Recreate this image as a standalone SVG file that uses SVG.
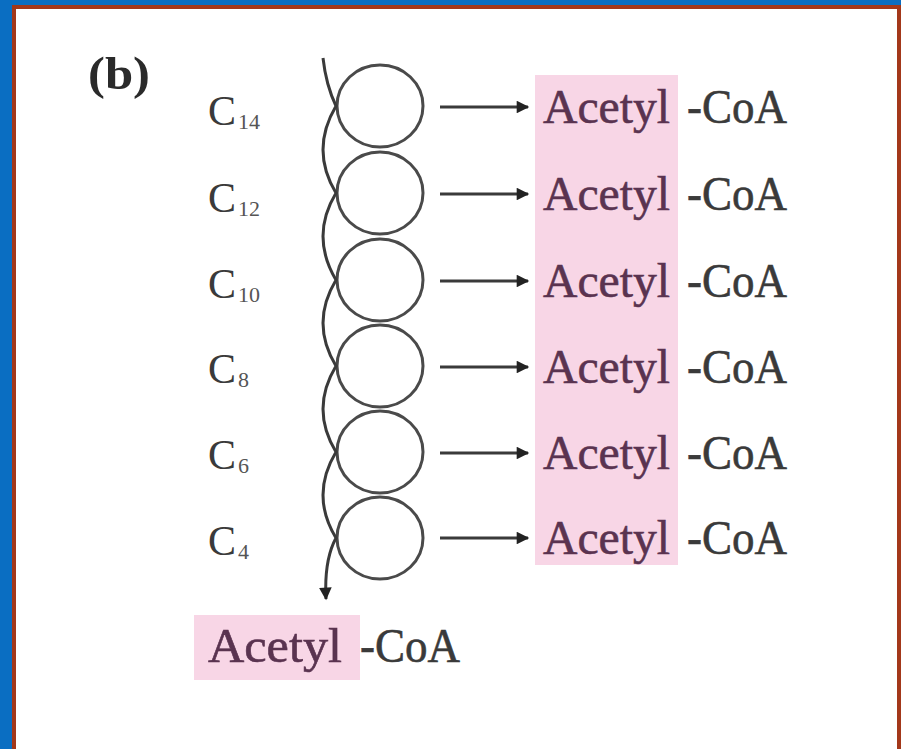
<svg xmlns="http://www.w3.org/2000/svg" width="901" height="749" viewBox="0 0 901 749">
<style>
.lbl{font-family:"Liberation Serif","Times New Roman",serif;fill:#3a3a3a}
.c{font-size:42px}
.sub{font-size:22px;fill:#555}
.ac{font-family:"Liberation Serif",serif;font-size:48px;fill:#5a3350;stroke:#5a3350;stroke-width:0.6}
.coa{font-family:"Liberation Serif",serif;font-size:48px;fill:#3a3a3a;stroke:#3a3a3a;stroke-width:0.6}
.pink{fill:#f8d6e6}
.ring{fill:none;stroke:#4a4a4a;stroke-width:3}
.arr{fill:none;stroke:#3a3a3a;stroke-width:3}
</style>
<defs>
<marker id="ah" viewBox="0 0 10 10" refX="9" refY="5" markerWidth="4.5" markerHeight="4.2" markerUnits="strokeWidth" orient="auto">
<path d="M0,0 L10,5 L0,10 z" fill="#222"/>
</marker>
</defs>
<rect x="0" y="0" width="901" height="749" fill="#0a6ec2"/>
<rect x="12" y="5" width="889" height="750" fill="#a3381a"/>
<rect x="16" y="9" width="881" height="745" fill="#ffffff"/>

<g id="title"><text x="88" y="89" font-family="Liberation Serif,serif" font-weight="bold" font-size="46" fill="#2a2a2a" textLength="62" lengthAdjust="spacingAndGlyphs">(b)</text></g>

<g id="pinkbox"><rect class="pink" x="535" y="75" width="143" height="490"/></g>

<g id="labels">
<text class="lbl c" x="208" y="125">C<tspan class="sub" dx="2" dy="4">14</tspan></text>
<text class="lbl c" x="208" y="212">C<tspan class="sub" dx="2" dy="4">12</tspan></text>
<text class="lbl c" x="208" y="298">C<tspan class="sub" dx="2" dy="4">10</tspan></text>
<text class="lbl c" x="208" y="383">C<tspan class="sub" dx="2" dy="4">8</tspan></text>
<text class="lbl c" x="208" y="469">C<tspan class="sub" dx="2" dy="4">6</tspan></text>
<text class="lbl c" x="208" y="555">C<tspan class="sub" dx="2" dy="4">4</tspan></text>
</g>

<g id="rings">
<ellipse class="ring" cx="380" cy="106" rx="43" ry="41"/>
<ellipse class="ring" cx="380" cy="193" rx="43" ry="41"/>
<ellipse class="ring" cx="380" cy="280" rx="43" ry="41"/>
<ellipse class="ring" cx="380" cy="366" rx="43" ry="41"/>
<ellipse class="ring" cx="380" cy="452" rx="43" ry="41"/>
<ellipse class="ring" cx="380" cy="538" rx="43" ry="41"/>
</g>

<g id="products">
<text class="ac" x="543" y="123" textLength="127" lengthAdjust="spacingAndGlyphs">Acetyl</text><text class="coa" x="687" y="123" textLength="100" lengthAdjust="spacingAndGlyphs">-CoA</text>
<text class="ac" x="543" y="210" textLength="127" lengthAdjust="spacingAndGlyphs">Acetyl</text><text class="coa" x="687" y="210" textLength="100" lengthAdjust="spacingAndGlyphs">-CoA</text>
<text class="ac" x="543" y="297" textLength="127" lengthAdjust="spacingAndGlyphs">Acetyl</text><text class="coa" x="687" y="297" textLength="100" lengthAdjust="spacingAndGlyphs">-CoA</text>
<text class="ac" x="543" y="383" textLength="127" lengthAdjust="spacingAndGlyphs">Acetyl</text><text class="coa" x="687" y="383" textLength="100" lengthAdjust="spacingAndGlyphs">-CoA</text>
<text class="ac" x="543" y="469" textLength="127" lengthAdjust="spacingAndGlyphs">Acetyl</text><text class="coa" x="687" y="469" textLength="100" lengthAdjust="spacingAndGlyphs">-CoA</text>
<text class="ac" x="543" y="554" textLength="127" lengthAdjust="spacingAndGlyphs">Acetyl</text><text class="coa" x="687" y="554" textLength="100" lengthAdjust="spacingAndGlyphs">-CoA</text>
</g>

<g id="final">
<rect class="pink" x="194" y="615" width="166" height="65"/>
<text class="ac" x="208" y="662" textLength="134" lengthAdjust="spacingAndGlyphs">Acetyl</text><text class="coa" x="360" y="662" textLength="100" lengthAdjust="spacingAndGlyphs">-CoA</text>
</g>

<g id="connectors">
<path class="arr" d="M323,58 Q326,85 336,106 Q310,150 336,193 Q310,236 336,280 Q310,323 336,366 Q310,409 336,452 Q310,495 336,538 Q324,560 326,599" marker-end="url(#ah)"/>
<line class="arr" x1="440" y1="107" x2="528" y2="107" marker-end="url(#ah)"/>
<line class="arr" x1="440" y1="194" x2="528" y2="194" marker-end="url(#ah)"/>
<line class="arr" x1="440" y1="281" x2="528" y2="281" marker-end="url(#ah)"/>
<line class="arr" x1="440" y1="367" x2="528" y2="367" marker-end="url(#ah)"/>
<line class="arr" x1="440" y1="453" x2="528" y2="453" marker-end="url(#ah)"/>
<line class="arr" x1="440" y1="538" x2="528" y2="538" marker-end="url(#ah)"/>
</g>
</svg>
